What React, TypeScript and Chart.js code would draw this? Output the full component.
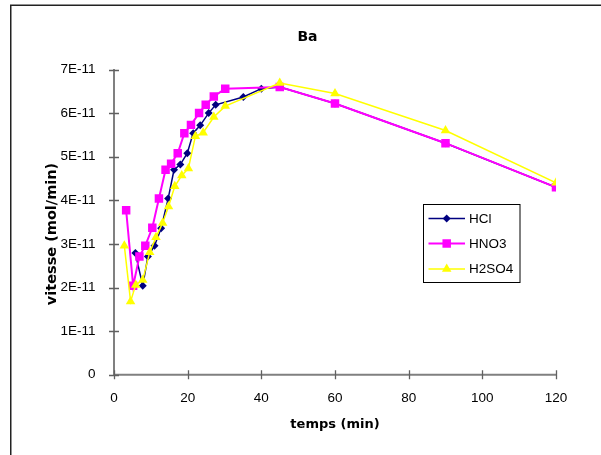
import React, { useEffect, useRef } from "react";
import { Chart, registerables } from "chart.js";

Chart.register(...registerables);

const TITLE = "Ba";
const X_TITLE = "temps (min)";
const Y_TITLE = "vitesse (mol/min)";

const hclX = [5.8, 7.8, 9.2, 11.0, 12.8, 14.7, 16.3, 18.0, 19.9, 21.5, 23.4, 25.7, 27.6, 35.1, 40, 45, 60, 90, 120];
const hclY = [2.79e-11, 2.04e-11, 2.71e-11, 2.96e-11, 3.36e-11, 4.04e-11, 4.7e-11, 4.82e-11, 5.08e-11, 5.54e-11, 5.72e-11, 6.0e-11, 6.19e-11, 6.37e-11, 6.56e-11, 6.6e-11, 6.22e-11, 5.31e-11, 4.3e-11];

const hno3X = [3.3, 5.2, 6.9, 8.5, 10.4, 12.2, 14.0, 15.5, 17.3, 19.1, 20.9, 23.1, 24.9, 27.1, 30.2, 45, 60, 90, 120];
const hno3Y = [3.77e-11, 2.04e-11, 2.71e-11, 2.96e-11, 3.37e-11, 4.04e-11, 4.7e-11, 4.84e-11, 5.08e-11, 5.54e-11, 5.73e-11, 6.0e-11, 6.19e-11, 6.38e-11, 6.56e-11, 6.6e-11, 6.22e-11, 5.31e-11, 4.3e-11];

const h2so4X = [2.8, 4.5, 5.9, 7.8, 9.7, 11.4, 13.2, 14.8, 16.5, 18.4, 20.2, 22.1, 24.2, 27.1, 30.2, 45, 60, 90, 120];
const h2so4Y = [2.96e-11, 1.68e-11, 2.06e-11, 2.17e-11, 2.81e-11, 3.15e-11, 3.48e-11, 3.86e-11, 4.32e-11, 4.57e-11, 4.73e-11, 5.47e-11, 5.55e-11, 5.91e-11, 6.16e-11, 6.69e-11, 6.45e-11, 5.6e-11, 4.4e-11];

const X_MIN = 0;
const X_MAX = 120;
const X_STEP = 20;
const Y_MIN = 0;
const Y_MAX = 7e-11;
const Y_STEP = 1e-11;

const toPoints = (xs: number[], ys: number[]) => xs.map((x, i) => ({ x, y: ys[i] }));

function drawMarker(ctx: CanvasRenderingContext2D, style: string, x: number, y: number, r: number) {
  ctx.beginPath();
  if (style === "rectRot") {
    ctx.moveTo(x, y - r);
    ctx.lineTo(x + r, y);
    ctx.lineTo(x, y + r);
    ctx.lineTo(x - r, y);
  } else if (style === "rect") {
    const s = r * Math.SQRT1_2;
    ctx.rect(x - s, y - s, 2 * s, 2 * s);
  } else {
    const h = r * Math.sqrt(3) / 2;
    ctx.moveTo(x, y - r);
    ctx.lineTo(x + h, y + r / 2);
    ctx.lineTo(x - h, y + r / 2);
  }
  ctx.closePath();
  ctx.fill();
}

const decorPlugin = {
  id: "decor",
  beforeDatasetsDraw(chart: any) {
    const ctx = chart.ctx as CanvasRenderingContext2D;
    const { left, right, top, bottom } = chart.chartArea;
    const xs = chart.scales.x;
    const ys = chart.scales.y;
    ctx.save();
    ctx.strokeStyle = "#808080";
    ctx.lineWidth = 2;
    ctx.beginPath();
    ctx.moveTo(left, top - 0.5);
    ctx.lineTo(left, bottom);
    ctx.lineTo(right + 0.5, bottom);
    ctx.stroke();
    ctx.strokeStyle = "#606060";
    ctx.lineWidth = 1.3;
    ctx.beginPath();
    ys.ticks.forEach((t: any) => {
      const p = Math.round(ys.getPixelForValue(t.value)) + 0.5;
      ctx.moveTo(left - 5, p);
      ctx.lineTo(left + 5, p);
    });
    xs.ticks.forEach((t: any) => {
      const p = Math.round(xs.getPixelForValue(t.value)) + 0.5;
      ctx.moveTo(p, bottom - 4.5);
      ctx.lineTo(p, bottom + 4.5);
    });
    ctx.stroke();
    ctx.restore();
  },
  afterDraw(chart: any) {
    const ctx = chart.ctx as CanvasRenderingContext2D;
    ctx.save();
    ctx.strokeStyle = "#222";
    ctx.lineWidth = 1.5;
    ctx.strokeRect(10.75, 5.25, 800, 800);

    ctx.fillStyle = "#000";
    ctx.textAlign = "center";
    ctx.textBaseline = "middle";
    ctx.font = "bold 14px 'DejaVu Sans'";
    ctx.fillText(TITLE, 307.5, 37);
    ctx.font = "bold 13px 'DejaVu Sans'";
    ctx.fillText(X_TITLE, 335, 425);
    ctx.save();
    ctx.translate(52, 234);
    ctx.rotate(-Math.PI / 2);
    ctx.font = "bold 14.5px 'DejaVu Sans'";
    ctx.fillText(Y_TITLE, 0, 0);
    ctx.restore();

    const lx = 423.5, ly = 204.5, lw = 96.5, lh = 78;
    ctx.fillStyle = "#fff";
    ctx.fillRect(lx, ly, lw, lh);
    ctx.strokeStyle = "#000";
    ctx.lineWidth = 1;
    ctx.strokeRect(lx, ly, lw, lh);
    const rowsY = [218.5, 243.5, 269];
    chart.data.datasets.forEach((ds: any, i: number) => {
      const y = rowsY[i];
      ctx.strokeStyle = ds.borderColor;
      ctx.lineWidth = ds.borderWidth;
      ctx.beginPath();
      ctx.moveTo(428.5, y);
      ctx.lineTo(465, y);
      ctx.stroke();
      ctx.fillStyle = ds.pointBackgroundColor;
      drawMarker(ctx, ds.pointStyle, 446.7, y, ds.pointRadius);
      ctx.fillStyle = "#000";
      ctx.textAlign = "left";
      ctx.textBaseline = "middle";
      ctx.font = "13.5px 'Liberation Sans'";
      ctx.fillText(ds.label, 469, y + 0.5);
    });
    ctx.restore();
  },
};

export default function App() {
  const ref = useRef<HTMLCanvasElement | null>(null);
  useEffect(() => {
    if (!ref.current) return;
    const chart = new Chart(ref.current, {
      type: "line",
      data: {
        datasets: [
          {
            label: "HCl",
            data: toPoints(hclX, hclY),
            borderColor: "#000080",
            backgroundColor: "#000080",
            pointBackgroundColor: "#000080",
            pointBorderColor: "#000080",
            borderWidth: 1.5,
            pointStyle: "rectRot",
            pointRadius: 4,
            pointBorderWidth: 0,
            order: 3,
          },
          {
            label: "HNO3",
            data: toPoints(hno3X, hno3Y),
            borderColor: "#FF00FF",
            backgroundColor: "#FF00FF",
            pointBackgroundColor: "#FF00FF",
            pointBorderColor: "#FF00FF",
            borderWidth: 2,
            pointStyle: "rect",
            pointRadius: 6,
            pointBorderWidth: 0,
            order: 2,
          },
          {
            label: "H2SO4",
            data: toPoints(h2so4X, h2so4Y),
            borderColor: "#FFFF00",
            backgroundColor: "#FFFF00",
            pointBackgroundColor: "#FFFF00",
            pointBorderColor: "#FFFF00",
            borderWidth: 1.5,
            pointStyle: "triangle",
            pointRadius: 5.5,
            pointBorderWidth: 0,
            order: 1,
          },
        ],
      },
      options: {
        responsive: false,
        animation: false,
        events: [],
        devicePixelRatio: 1,
        layout: { padding: { left: 10, right: 45, top: 69.5, bottom: 0 } },
        plugins: {
          legend: { display: false },
          title: { display: false },
          tooltip: { enabled: false },
        },
        scales: {
          x: {
            type: "linear",
            min: X_MIN,
            max: X_MAX,
            grid: { display: false },
            border: { display: false },
            ticks: {
              stepSize: X_STEP,
              autoSkip: false,
              maxRotation: 0,
              padding: 7,
              color: "#000",
              font: { family: "'Liberation Sans'", size: 13.5 },
            },
            afterFit: (s: any) => {
              s.height = 80.3;
            },
          },
          y: {
            type: "linear",
            min: Y_MIN,
            max: Y_MAX,
            grid: { display: false },
            border: { display: false },
            ticks: {
              stepSize: Y_STEP,
              autoSkip: false,
              padding: 10.5,
              color: "#000",
              font: { family: "'Liberation Sans'", size: 13.5 },
              callback: (v: any) => (Math.abs(v) < 1e-15 ? "0" : `${Math.round(v * 1e11)}E-11`),
            },
            afterFit: (s: any) => {
              s.width = 104;
            },
          },
        },
      },
      plugins: [decorPlugin],
    } as any);
    return () => chart.destroy();
  }, []);
  return (
    <div style={{ position: "fixed", left: 0, top: 0, width: 601, height: 455, overflow: "hidden", background: "#fff" }}>
      <canvas ref={ref} width={601} height={455} style={{ width: 601, height: 455, display: "block" }} />
    </div>
  );
}
